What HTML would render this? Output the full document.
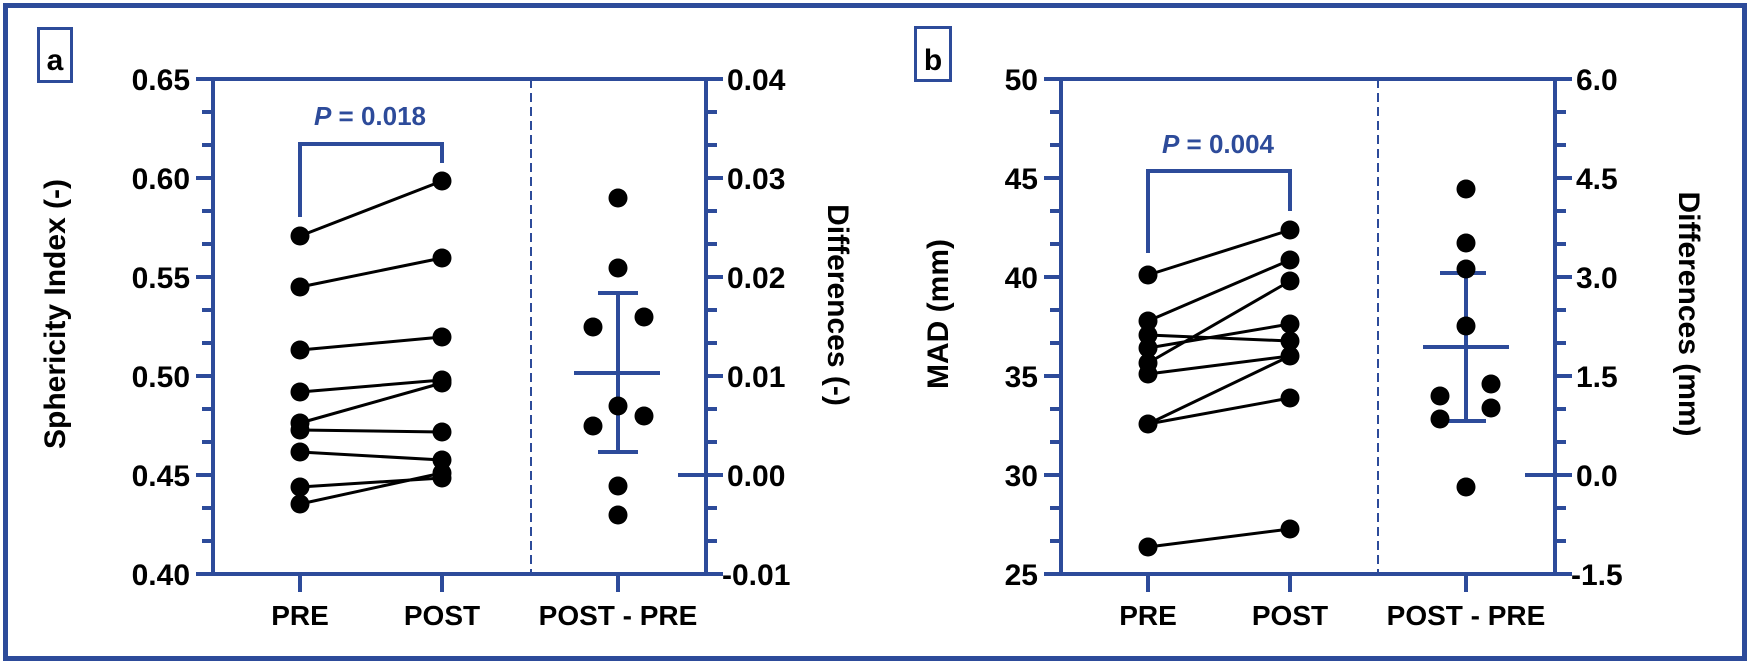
<!DOCTYPE html>
<html><head><meta charset="utf-8"><style>html,body{margin:0;padding:0;background:#fff}svg{display:block}</style></head>
<body>
<svg width="1750" height="665" viewBox="0 0 1750 665" xmlns="http://www.w3.org/2000/svg" font-family="Liberation Sans, Arial, sans-serif" font-weight="bold">
<rect x="5.5" y="5.5" width="1739" height="653" fill="#fff" stroke="#2d4b9a" stroke-width="5"/>
<g stroke="#2d4b9a" fill="none" stroke-width="3">
<rect x="38.5" y="28.5" width="33" height="53"/>
<rect x="915.5" y="27.5" width="35" height="53"/>
</g>
<text x="55" y="70" font-size="30" text-anchor="middle">a</text>
<text x="933" y="70" font-size="30" text-anchor="middle">b</text>

<!-- Panel a -->
<g stroke="#2d4b9a" stroke-width="4" fill="none">
<line x1="213" y1="79" x2="213" y2="576"/>
<line x1="706" y1="79" x2="706" y2="576"/>
<line x1="196" y1="79" x2="723" y2="79"/>
<line x1="196" y1="574" x2="723" y2="574"/>
<line x1="531" y1="79" x2="531" y2="574" stroke-width="2" stroke-dasharray="9,5"/>
<line x1="196" y1="178" x2="213" y2="178"/><line x1="196" y1="277" x2="213" y2="277"/><line x1="196" y1="376" x2="213" y2="376"/><line x1="196" y1="475" x2="213" y2="475"/>
<line x1="202" y1="112" x2="213" y2="112"/><line x1="202" y1="145" x2="213" y2="145"/><line x1="202" y1="211" x2="213" y2="211"/><line x1="202" y1="244" x2="213" y2="244"/><line x1="202" y1="310" x2="213" y2="310"/><line x1="202" y1="343" x2="213" y2="343"/><line x1="202" y1="409" x2="213" y2="409"/><line x1="202" y1="442" x2="213" y2="442"/><line x1="202" y1="508" x2="213" y2="508"/><line x1="202" y1="541" x2="213" y2="541"/>
<line x1="706" y1="178" x2="723" y2="178"/><line x1="706" y1="277" x2="723" y2="277"/><line x1="706" y1="376" x2="723" y2="376"/><line x1="678" y1="475" x2="723" y2="475"/>
<line x1="706" y1="112" x2="717" y2="112"/><line x1="706" y1="145" x2="717" y2="145"/><line x1="706" y1="211" x2="717" y2="211"/><line x1="706" y1="244" x2="717" y2="244"/><line x1="706" y1="310" x2="717" y2="310"/><line x1="706" y1="343" x2="717" y2="343"/><line x1="706" y1="409" x2="717" y2="409"/><line x1="706" y1="442" x2="717" y2="442"/><line x1="706" y1="508" x2="717" y2="508"/><line x1="706" y1="541" x2="717" y2="541"/>
<line x1="300" y1="574" x2="300" y2="592"/><line x1="442" y1="574" x2="442" y2="592"/><line x1="618" y1="574" x2="618" y2="592"/>
<polyline points="300,217 300,144 442,144 442,163"/>
<line x1="574" y1="373" x2="660" y2="373"/>
<line x1="618" y1="293" x2="618" y2="452"/>
<line x1="598" y1="293" x2="638" y2="293"/><line x1="598" y1="452" x2="638" y2="452"/>
</g>
<g font-size="30" text-anchor="end">
<text x="190" y="90">0.65</text><text x="190" y="189">0.60</text><text x="190" y="288">0.55</text><text x="190" y="387">0.50</text><text x="190" y="486">0.45</text><text x="190" y="585">0.40</text>
</g>
<g font-size="30" text-anchor="start">
<text x="727" y="90">0.04</text><text x="727" y="189">0.03</text><text x="727" y="288">0.02</text><text x="727" y="387">0.01</text><text x="727" y="486">0.00</text><text x="722" y="585">-0.01</text>
</g>
<g font-size="28" text-anchor="middle">
<text x="300" y="625">PRE</text><text x="442" y="625">POST</text><text x="618" y="625">POST - PRE</text>
</g>
<text x="370" y="125" font-size="26" fill="#2d4b9a" text-anchor="middle"><tspan font-style="italic">P</tspan> = 0.018</text>
<text transform="translate(65,314) rotate(-90)" font-size="30" text-anchor="middle">Sphericity Index (-)</text>
<text transform="translate(828,305) rotate(90)" font-size="30" text-anchor="middle">Differences (-)</text>
<g stroke="#000" stroke-width="3">
<line x1="300" y1="236" x2="442" y2="181"/><line x1="300" y1="287" x2="442" y2="258"/><line x1="300" y1="350" x2="442" y2="337"/><line x1="300" y1="392" x2="442" y2="380"/><line x1="300" y1="423" x2="442" y2="383"/><line x1="300" y1="430" x2="442" y2="432"/><line x1="300" y1="452" x2="442" y2="460"/><line x1="300" y1="487" x2="442" y2="478"/><line x1="300" y1="504" x2="442" y2="473"/>
</g>
<g fill="#000">
<circle cx="300" cy="236" r="9.5"/><circle cx="300" cy="287" r="9.5"/><circle cx="300" cy="350" r="9.5"/><circle cx="300" cy="392" r="9.5"/><circle cx="300" cy="423" r="9.5"/><circle cx="300" cy="430" r="9.5"/><circle cx="300" cy="452" r="9.5"/><circle cx="300" cy="487" r="9.5"/><circle cx="300" cy="504" r="9.5"/>
<circle cx="442" cy="181" r="9.5"/><circle cx="442" cy="258" r="9.5"/><circle cx="442" cy="337" r="9.5"/><circle cx="442" cy="380" r="9.5"/><circle cx="442" cy="383" r="9.5"/><circle cx="442" cy="432" r="9.5"/><circle cx="442" cy="460" r="9.5"/><circle cx="442" cy="473" r="9.5"/><circle cx="442" cy="478" r="9.5"/>
<circle cx="618" cy="198" r="9.5"/><circle cx="618" cy="268" r="9.5"/><circle cx="593" cy="327" r="9.5"/><circle cx="644" cy="317" r="9.5"/><circle cx="618" cy="406" r="9.5"/><circle cx="644" cy="416" r="9.5"/><circle cx="593" cy="426" r="9.5"/><circle cx="618" cy="486" r="9.5"/><circle cx="618" cy="515" r="9.5"/>
</g>

<!-- Panel b -->
<g stroke="#2d4b9a" stroke-width="4" fill="none">
<line x1="1061" y1="79" x2="1061" y2="576"/>
<line x1="1555" y1="79" x2="1555" y2="576"/>
<line x1="1044" y1="79" x2="1572" y2="79"/>
<line x1="1044" y1="574" x2="1572" y2="574"/>
<line x1="1378" y1="79" x2="1378" y2="574" stroke-width="2" stroke-dasharray="9,5"/>
<line x1="1044" y1="178" x2="1061" y2="178"/><line x1="1044" y1="277" x2="1061" y2="277"/><line x1="1044" y1="376" x2="1061" y2="376"/><line x1="1044" y1="475" x2="1061" y2="475"/>
<line x1="1050" y1="112" x2="1061" y2="112"/><line x1="1050" y1="145" x2="1061" y2="145"/><line x1="1050" y1="211" x2="1061" y2="211"/><line x1="1050" y1="244" x2="1061" y2="244"/><line x1="1050" y1="310" x2="1061" y2="310"/><line x1="1050" y1="343" x2="1061" y2="343"/><line x1="1050" y1="409" x2="1061" y2="409"/><line x1="1050" y1="442" x2="1061" y2="442"/><line x1="1050" y1="508" x2="1061" y2="508"/><line x1="1050" y1="541" x2="1061" y2="541"/>
<line x1="1555" y1="178" x2="1572" y2="178"/><line x1="1555" y1="277" x2="1572" y2="277"/><line x1="1555" y1="376" x2="1572" y2="376"/><line x1="1525" y1="475" x2="1572" y2="475"/>
<line x1="1555" y1="112" x2="1566" y2="112"/><line x1="1555" y1="145" x2="1566" y2="145"/><line x1="1555" y1="211" x2="1566" y2="211"/><line x1="1555" y1="244" x2="1566" y2="244"/><line x1="1555" y1="310" x2="1566" y2="310"/><line x1="1555" y1="343" x2="1566" y2="343"/><line x1="1555" y1="409" x2="1566" y2="409"/><line x1="1555" y1="442" x2="1566" y2="442"/><line x1="1555" y1="508" x2="1566" y2="508"/><line x1="1555" y1="541" x2="1566" y2="541"/>
<line x1="1148" y1="574" x2="1148" y2="592"/><line x1="1290" y1="574" x2="1290" y2="592"/><line x1="1466" y1="574" x2="1466" y2="592"/>
<polyline points="1148,253 1148,171 1290,171 1290,211"/>
<line x1="1423" y1="347" x2="1509" y2="347"/>
<line x1="1466" y1="273" x2="1466" y2="421"/>
<line x1="1440" y1="273" x2="1486" y2="273"/><line x1="1440" y1="421" x2="1486" y2="421"/>
</g>
<g font-size="30" text-anchor="end">
<text x="1038" y="90">50</text><text x="1038" y="189">45</text><text x="1038" y="288">40</text><text x="1038" y="387">35</text><text x="1038" y="486">30</text><text x="1038" y="585">25</text>
</g>
<g font-size="30" text-anchor="start">
<text x="1576" y="90">6.0</text><text x="1576" y="189">4.5</text><text x="1576" y="288">3.0</text><text x="1576" y="387">1.5</text><text x="1576" y="486">0.0</text><text x="1571" y="585">-1.5</text>
</g>
<g font-size="28" text-anchor="middle">
<text x="1148" y="625">PRE</text><text x="1290" y="625">POST</text><text x="1466" y="625">POST - PRE</text>
</g>
<text x="1218" y="153" font-size="26" fill="#2d4b9a" text-anchor="middle"><tspan font-style="italic">P</tspan> = 0.004</text>
<text transform="translate(948,314) rotate(-90)" font-size="30" text-anchor="middle">MAD (mm)</text>
<text transform="translate(1679,314) rotate(90)" font-size="30" text-anchor="middle">Differences (mm)</text>
<g stroke="#000" stroke-width="3">
<line x1="1148" y1="275" x2="1290" y2="230"/><line x1="1148" y1="321" x2="1290" y2="260"/><line x1="1148" y1="335" x2="1290" y2="341"/><line x1="1148" y1="348" x2="1290" y2="324"/><line x1="1148" y1="363" x2="1290" y2="281"/><line x1="1148" y1="374" x2="1290" y2="356"/><line x1="1148" y1="424" x2="1290" y2="356"/><line x1="1148" y1="424" x2="1290" y2="398"/><line x1="1148" y1="547" x2="1290" y2="529"/>
</g>
<g fill="#000">
<circle cx="1148" cy="275" r="9.5"/><circle cx="1148" cy="321" r="9.5"/><circle cx="1148" cy="335" r="9.5"/><circle cx="1148" cy="348" r="9.5"/><circle cx="1148" cy="363" r="9.5"/><circle cx="1148" cy="374" r="9.5"/><circle cx="1148" cy="424" r="9.5"/><circle cx="1148" cy="547" r="9.5"/>
<circle cx="1290" cy="230" r="9.5"/><circle cx="1290" cy="260" r="9.5"/><circle cx="1290" cy="281" r="9.5"/><circle cx="1290" cy="324" r="9.5"/><circle cx="1290" cy="341" r="9.5"/><circle cx="1290" cy="356" r="9.5"/><circle cx="1290" cy="398" r="9.5"/><circle cx="1290" cy="529" r="9.5"/>
<circle cx="1466" cy="189" r="9.5"/><circle cx="1466" cy="243" r="9.5"/><circle cx="1466" cy="269" r="9.5"/><circle cx="1466" cy="326" r="9.5"/><circle cx="1440" cy="396" r="9.5"/><circle cx="1491" cy="384" r="9.5"/><circle cx="1491" cy="408" r="9.5"/><circle cx="1440" cy="419" r="9.5"/><circle cx="1466" cy="487" r="9.5"/>
</g>
</svg>
</body></html>
